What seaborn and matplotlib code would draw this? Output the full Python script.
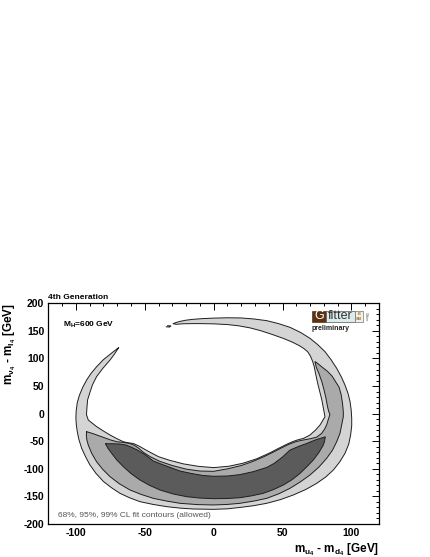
import matplotlib
matplotlib.use("Agg")
import matplotlib.pyplot as plt
from matplotlib.patches import Rectangle
import seaborn as sns
import numpy as np

# ---- data: contour boundaries (GeV) ----
# 99% CL region (light): outer edge (left tip -> bottom -> right -> top tip), then inner edge back
c99_x = [-69, -74, -80, -85, -89, -92.2, -95, -97.5, -99, -99.8, -100, -99.7, -99, -97.8,
         -95.8, -93, -89.8, -85.5, -80, -74, -68, -61, -53.5, -44, -34, -24, -14.8, 0, 10,
         19.1, 29, 38.5, 48.5, 57.8, 66.8, 74.8, 81.5, 86.9, 91.5, 95.3, 98, 99.4, 100.2,
         100.2, 99.8, 99, 97.5, 95.3, 92.6, 89.3, 85.3, 80.8, 75.5, 69.9, 63, 55.4, 47,
         38.5, 29, 20, 10, 0, -8, -15, -20, -24, -27, -29.5,
         -27, -22, -12, 0, 10, 18, 26.4, 34, 42, 50.5, 57, 62, 65.5, 68.3, 70.3, 71.8, 73,
         74.2, 75.5, 77, 78.5, 79.6, 80.8, 79, 77.2, 74, 69.9, 65.5, 61, 57.5, 53, 47, 40,
         31, 21, 11, 0, -11, -22, -32, -40, -48, -54, -58.3, -61.5, -65.6, -70.5, -75.2,
         -80, -84.9, -88, -91, -92.3, -92, -91.5, -90, -88, -85, -80.5, -75.2, -72, -69]
c99_y = [119.6, 110, 98, 85, 73, 61, 48, 33, 20, 5, -8, -20, -32.6, -47,
         -62.8, -78, -93, -108, -123, -134.5, -144.4, -152.5, -159.5, -164.5, -168.6, -171.3,
         -172.8, -173.4, -172.5, -170, -166.8, -162.5, -155.8, -147.4, -137.5, -126.3, -114.5,
         -102, -87.5, -72, -55.5, -38.7, -22, -8.5, 7, 21.8, 37, 52, 67, 82.2, 97.5, 112.4,
         125.2, 136.6, 147.3, 156.5, 163.3, 168.6, 171.7, 173.5, 173.8, 173.2, 172.3, 171,
         169.5, 167.5, 165.5, 163,
         162, 163, 163.3, 162.8, 161.5, 159.3, 155.5, 150.5, 144, 136.5, 129.8, 123.5, 118,
         112, 104, 95, 85, 70, 55, 40, 25, 10, -5.5, -13, -20.5, -29.5, -38.7, -44.5, -47.5,
         -50.5, -55.5, -63, -72, -82, -90, -95.3, -97.8, -95.5, -91, -84.5, -78, -67.5,
         -59, -54, -53, -50.8, -45, -38.7, -31.5, -23.6, -17.5, -11.5, -2, 10, 25, 37, 52,
         67, 82, 97.3, 108, 119.6]
# small isolated 99% island
isl_x = [-34.5, -32, -31, -33.5]
isl_y = [157.5, 157, 159, 159.5]

# 95% CL region (medium): outer edge then inner edge
c95_x = [-92.2, -92.4, -92, -91, -88.5, -85, -80.5, -75.2, -68.5, -60.7, -52.5, -43.8, -34,
         -24.4, -12, 0, 10, 19.1, 29, 38.5, 47.5, 55.4, 63, 69.9, 76.5, 82, 86.3, 89.3,
         91.7, 92.9, 94.1, 94.1, 93.5, 92.5, 91, 88.5, 86, 82.5, 78.4, 75.5, 73.5,
         74.5, 76.5, 78.5, 80, 81.5, 82.7, 83.6, 84.4, 83, 82, 80.5, 78.4, 74.8, 70, 64.5,
         60, 55, 50, 43, 36, 28, 20, 10, 0, -10, -20, -30, -39, -46, -51, -54.5, -57.5,
         -61, -66, -70.4, -75, -80, -85, -89, -92.2]
c95_y = [-32.7, -40, -48, -57, -72, -87, -101, -114.2, -127, -138.4, -146.5, -153.5, -158.5,
         -162.5, -164.8, -165.5, -164.5, -162.5, -158.5, -153.5, -145, -135.3, -123.5,
         -111.2, -96.5, -81, -66, -50.8, -35.5, -20.5, -5.5, 3.6, 19, 35, 48, 58, 68, 77,
         85, 91, 94.5,
         84, 72, 58, 44, 28, 12, 3, -1.2, -12, -20.5, -28, -35.6, -42.5, -45.5, -48, -50.5,
         -55, -61, -70, -78.5, -87, -94, -100, -104.5, -104, -100.5, -94, -86.5, -78, -70,
         -62.5, -57.5, -54, -52, -50.8, -47.5, -43, -38.5, -35, -32.7]

# 68% CL region (dark)
c68_x = [-78.5, -73, -68, -63.5, -59.5, -55, -50, -44, -38, -31, -24.4, -16, -8, 0, 10, 19,
         29, 38.5, 44, 50, 55.4, 62, 67.5, 74, 81,
         80.5, 79.6, 76.5, 72.3, 67.5, 62.7, 57, 50.6, 43.5, 36, 27.5, 19.1, 10, 0, -10,
         -19.6, -29.5, -38.9, -46.5, -53.5, -60, -65.6, -70.3, -74, -76.8, -78.5]
c68_y = [-54.5, -54.5, -55, -57, -61, -66.5, -74, -85.5, -91.5, -98, -104, -108.5, -112,
         -113.5, -113, -110.5, -105, -97.5, -90, -78.5, -66, -59, -54, -47.5, -42,
         -50, -56.8, -70, -84, -96.5, -108.2, -119.5, -129.3, -137.5, -144.4, -149, -152.3,
         -153.8, -154.1, -153, -150.5, -145.5, -138.4, -130, -120.2, -108.5, -96, -84,
         -71.9, -62.5, -54.5]

x_ticks = [-100, -50, 0, 50, 100]
y_ticks = [-200, -150, -100, -50, 0, 50, 100, 150, 200]

# ---- figure ----
sns.set_theme(style="white")
plt.rcParams["font.family"] = ["Liberation Sans", "DejaVu Sans"]
plt.rcParams["font.weight"] = "bold"
plt.rcParams["text.color"] = "black"
plt.rcParams["axes.labelcolor"] = "black"
plt.rcParams["xtick.color"] = "black"
plt.rcParams["ytick.color"] = "black"
plt.rcParams["axes.unicode_minus"] = False
plt.rcParams["mathtext.fontset"] = "custom"
plt.rcParams["mathtext.rm"] = "Liberation Sans:bold"
plt.rcParams["mathtext.it"] = "Liberation Sans:bold"
plt.rcParams["mathtext.bf"] = "Liberation Sans:bold"

W, H = 431, 557
fig = plt.figure(figsize=(W / 100, H / 100), dpi=100)
fig.patch.set_facecolor("white")
ax = fig.add_axes([48.33 / W, 33 / H, 330.67 / W, 220.67 / H])
ax.set_facecolor("white")

light, medium, dark = "#d4d4d4", "#aaaaaa", "#5b5b5b"
for xs, ys, col in [(c99_x, c99_y, light), (isl_x, isl_y, light),
                    (c95_x, c95_y, medium), (c68_x, c68_y, dark)]:
    ax.fill(xs, ys, color=col, zorder=2, lw=0)
    sns.lineplot(x=xs, y=ys, sort=False, estimator=None, color="#1e1e1e",
                 lw=0.7, ax=ax, zorder=3)

ax.set_xlim(-120, 120)
ax.set_ylim(-200, 200)
ax.set_xticks(x_ticks)
ax.set_yticks(y_ticks)
ax.set_xticks(np.arange(-120, 121, 10), minor=True)
ax.set_yticks(np.arange(-200, 201, 10), minor=True)
ax.tick_params(which="both", direction="in", top=True, right=True, color="black",
               labelcolor="black", width=0.7)
ax.tick_params(which="major", length=5, labelsize=7.5, pad=3)
ax.tick_params(which="minor", length=2.5)
for lab in ax.get_xticklabels() + ax.get_yticklabels():
    lab.set_fontweight("bold")
for s in ax.spines.values():
    s.set_linewidth(0.9)
    s.set_color("black")

ax.set_xlabel(r"m$_{u_4}$ - m$_{d_4}$ [GeV]", fontsize=8.5, fontweight="bold",
              color="black", loc="right", labelpad=2)
ax.set_ylabel(r"m$_{\nu_4}$ - m$_{l_4}$ [GeV]", fontsize=8.5, fontweight="bold",
              color="black", loc="top", labelpad=4)

ax.text(0.0, 1.012, "4th Generation", transform=ax.transAxes, fontsize=6,
        fontweight="bold", color="black", ha="left", va="bottom")
ax.text(0.045, 0.9, r"M$_{H}$=600 GeV", transform=ax.transAxes, fontsize=6,
        fontweight="bold", color="black", ha="left", va="center")
ax.text(0.03, 0.04, "68%, 95%, 99% CL fit contours (allowed)", transform=ax.transAxes,
        fontsize=6, fontweight="normal", color="#555555", ha="left", va="center")

# Gfitter logo
def px2ax(px, py):
    return ((px - 48.33) / 330.67, (524 - py) / 220.67)

x0, y0 = px2ax(311.7, 322)
x1, _ = px2ax(325.7, 322)
x2, _ = px2ax(355, 322)
x3, _ = px2ax(363.3, 322)
_, y1 = px2ax(311.7, 310.5)
hh = y1 - y0
ax.add_patch(Rectangle((x0, y0), x1 - x0, hh, transform=ax.transAxes,
                       facecolor="#5a3212", edgecolor="#5a3212", lw=0.5, zorder=5))
ax.add_patch(Rectangle((x1, y0), x2 - x1, hh, transform=ax.transAxes,
                       facecolor="#dcecec", edgecolor="#555555", lw=0.5, zorder=5))
ax.add_patch(Rectangle((x2, y0), x3 - x2, hh, transform=ax.transAxes,
                       facecolor="#f2efe6", edgecolor="#777777", lw=0.5, zorder=5))
ax.text((x0 + x1) / 2, y0 + hh / 2, "G", transform=ax.transAxes, fontsize=9,
        fontweight="normal", color="white", ha="center", va="center", zorder=6)
ax.text((x1 + x2) / 2, y0 + hh / 2, "fitter", transform=ax.transAxes, fontsize=9,
        fontweight="normal", color="#333333", ha="center", va="center", zorder=6)
ax.text((x2 + x3) / 2, y0 + hh * 0.72, "B", transform=ax.transAxes, fontsize=2.8,
        color="#a07030", ha="center", va="center", zorder=6)
ax.text((x2 + x3) / 2, y0 + hh * 0.3, "SM", transform=ax.transAxes, fontsize=2.8,
        color="#a07030", ha="center", va="center", zorder=6)
ax.text(x3 + 0.008, y0 + hh / 2, "Gfitter", transform=ax.transAxes, fontsize=2.5,
        fontweight="normal", color="#555555", ha="center", va="center", rotation=-90,
        zorder=6)
ax.text(x0, y0 - 0.012, "preliminary", transform=ax.transAxes, fontsize=5,
        fontweight="bold", color="#222222", ha="left", va="top", zorder=6)

fig.savefig("out.png", dpi=100, facecolor="white")
